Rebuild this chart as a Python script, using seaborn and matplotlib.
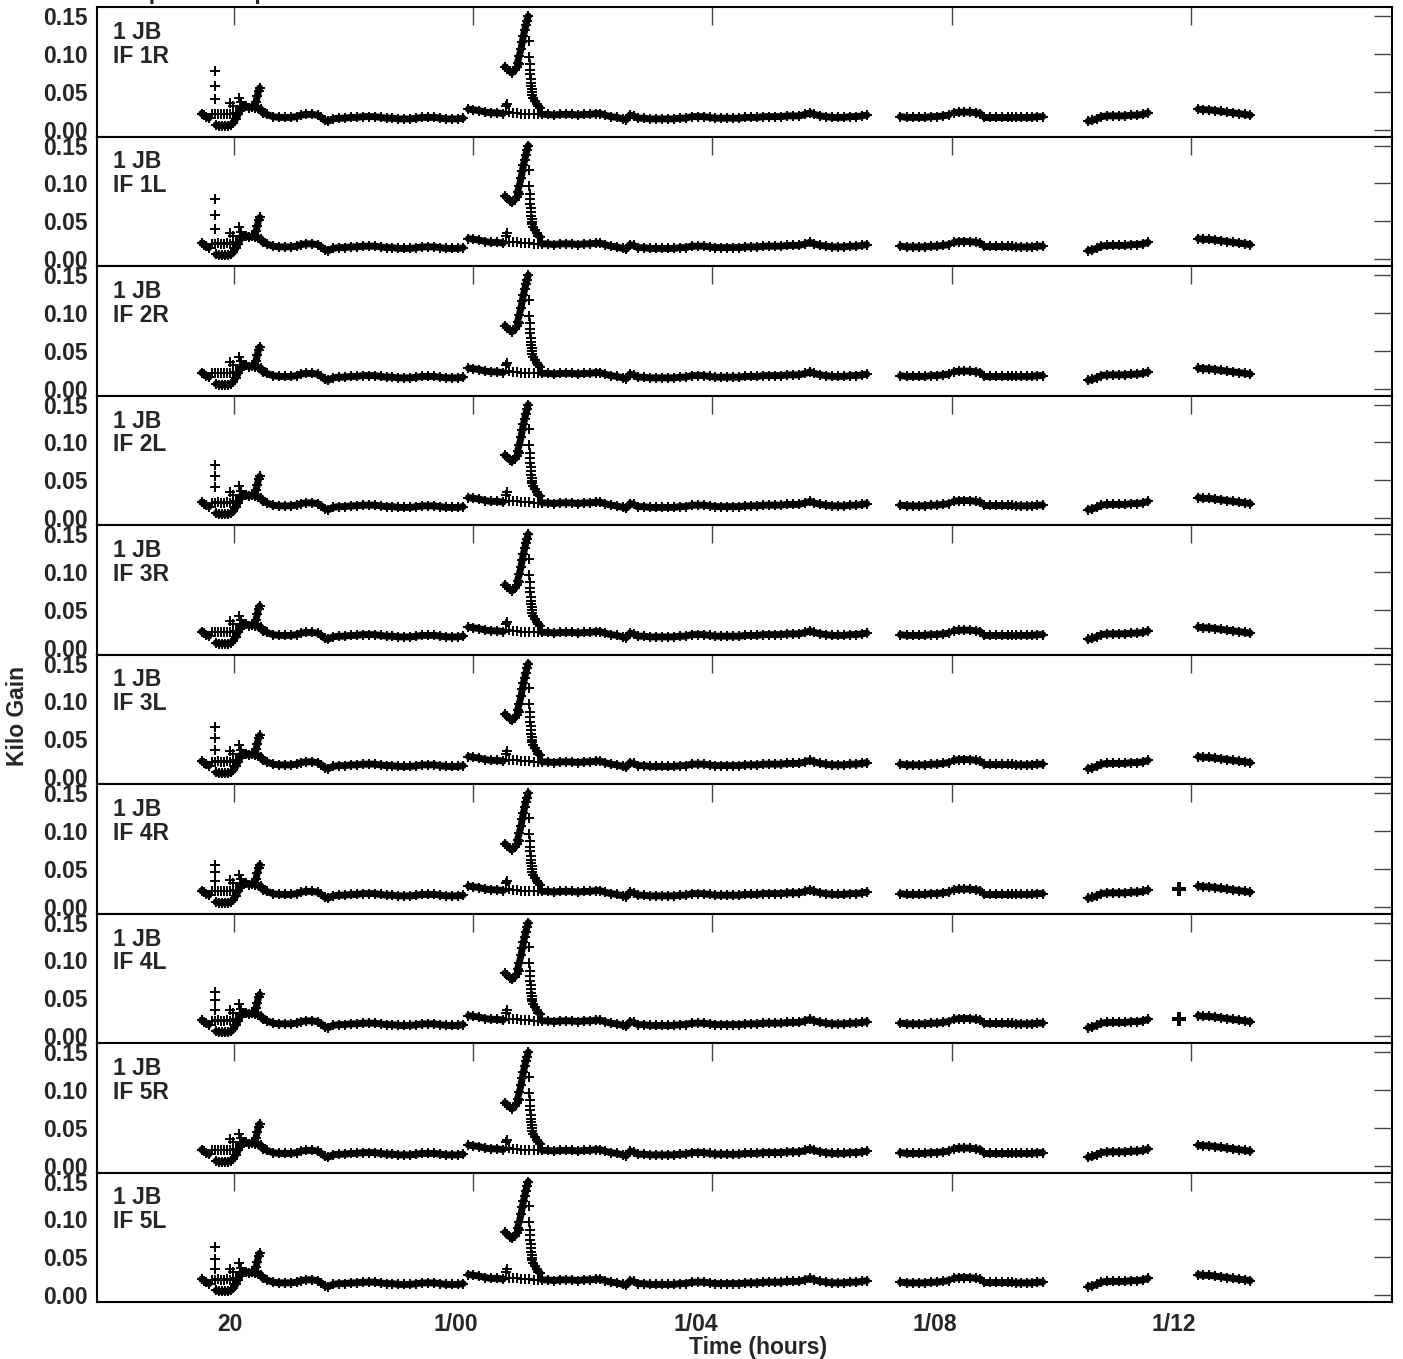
#!/usr/bin/env python3

import matplotlib
matplotlib.use("Agg")
import matplotlib.pyplot as plt
import matplotlib.transforms as mtransforms
from matplotlib.ticker import FormatStrFormatter
import pandas as pd
import seaborn as sns


station = "1 JB"
if_names = ["IF 1R", "IF 1L", "IF 2R", "IF 2L", "IF 3R",
            "IF 3L", "IF 4R", "IF 4L", "IF 5R", "IF 5L"]

# solid runs of solutions, time in hours, one list per run
band_t = [
    [19.46, 19.50, 19.54, 19.58],
    [19.70, 19.75, 19.80, 19.85, 19.90, 19.95, 19.99, 20.03, 20.07, 20.10],
    [20.10, 20.15, 20.20, 20.25, 20.30, 20.35, 20.40, 20.45],
    [20.35, 20.37, 20.39, 20.41, 20.43],
    [20.48, 20.55, 20.65, 20.75, 20.85, 20.95, 21.05, 21.12, 21.20, 21.30,
     21.40, 21.46, 21.52, 21.58, 21.65, 21.75, 21.85, 21.95, 22.05, 22.15,
     22.25, 22.35, 22.45, 22.55, 22.65, 22.75, 22.85, 22.95, 23.05, 23.15,
     23.25, 23.35, 23.45, 23.55, 23.65, 23.75, 23.83],
    [23.92, 24.00, 24.10, 24.20, 24.30, 24.40, 24.50],
    [24.53, 24.57, 24.61, 24.65, 24.69, 24.73, 24.76],
    [24.74, 24.77, 24.80, 24.82, 24.84, 24.86, 24.88, 24.90, 24.92],
    [25.00, 25.03, 25.06, 25.09, 25.12],
    [25.15, 25.25, 25.35, 25.45, 25.55, 25.65, 25.75, 25.85, 25.95, 26.05,
     26.12, 26.20, 26.30, 26.40, 26.50, 26.56, 26.62, 26.68, 26.75, 26.85,
     26.95, 27.05, 27.15, 27.25, 27.35, 27.45, 27.55, 27.65, 27.75, 27.85,
     27.95, 28.05, 28.15, 28.25, 28.35, 28.45, 28.55, 28.65, 28.75, 28.85,
     28.95, 29.05, 29.15, 29.25, 29.35, 29.45, 29.55, 29.63, 29.70, 29.80,
     29.90, 30.00, 30.10, 30.20, 30.30, 30.40, 30.50, 30.58],
    [31.14, 31.25, 31.35, 31.45, 31.55, 31.65, 31.75, 31.85, 31.95],
    [32.03, 32.12, 32.21, 32.30, 32.40, 32.48],
    [32.54, 32.64, 32.74, 32.84, 32.94, 33.00],
    [33.07, 33.16, 33.25, 33.34, 33.43, 33.52],
    [34.28, 34.35, 34.42, 34.50, 34.60, 34.70, 34.80, 34.90, 35.00, 35.10,
     35.20, 35.28],
    [36.12, 36.20, 36.30, 36.40, 36.50, 36.60, 36.70, 36.80, 36.90, 36.99],
]
band_v = [
    [0.021, 0.019, 0.017, 0.015],
    [0.006, 0.005, 0.005, 0.005, 0.005, 0.006, 0.009, 0.014, 0.020, 0.025],
    [0.028, 0.030, 0.031, 0.029, 0.030, 0.029, 0.028, 0.027],
    [0.030, 0.037, 0.044, 0.051, 0.055],
    [0.022, 0.020, 0.017, 0.016, 0.016, 0.016, 0.017, 0.019, 0.020, 0.020,
     0.019, 0.016, 0.012, 0.011, 0.014, 0.015, 0.015, 0.016, 0.016, 0.017,
     0.017, 0.017, 0.016, 0.015, 0.015, 0.014, 0.014, 0.014, 0.015, 0.016,
     0.016, 0.016, 0.015, 0.014, 0.014, 0.014, 0.015],
    [0.027, 0.026, 0.025, 0.023, 0.022, 0.022, 0.021],
    [0.083, 0.080, 0.077, 0.075, 0.078, 0.082, 0.086],
    [0.088, 0.097, 0.107, 0.116, 0.124, 0.131, 0.138, 0.144, 0.150],
    [0.042, 0.038, 0.034, 0.031, 0.029],
    [0.020, 0.020, 0.019, 0.020, 0.020, 0.020, 0.019, 0.020, 0.020, 0.021,
     0.021, 0.019, 0.017, 0.016, 0.014, 0.013, 0.019, 0.018, 0.015, 0.015,
     0.014, 0.014, 0.014, 0.014, 0.014, 0.015, 0.015, 0.017, 0.017, 0.017,
     0.016, 0.015, 0.015, 0.015, 0.015, 0.015, 0.016, 0.016, 0.016, 0.017,
     0.017, 0.017, 0.017, 0.018, 0.018, 0.018, 0.020, 0.022, 0.020, 0.018,
     0.017, 0.016, 0.016, 0.016, 0.017, 0.017, 0.018, 0.019],
    [0.017, 0.016, 0.016, 0.016, 0.016, 0.017, 0.017, 0.018, 0.019],
    [0.022, 0.023, 0.023, 0.023, 0.022, 0.021],
    [0.017, 0.017, 0.017, 0.017, 0.017, 0.017],
    [0.016, 0.016, 0.016, 0.016, 0.017, 0.017],
    [0.011, 0.012, 0.014, 0.017, 0.018, 0.018, 0.018, 0.018, 0.019, 0.019,
     0.020, 0.022],
    [0.027, 0.026, 0.026, 0.025, 0.024, 0.023, 0.022, 0.021, 0.020, 0.019],
]

# loose solutions drawn as single crosses, shared by all IFs
plus_t = [19.64, 19.69, 19.74, 19.79, 19.84, 19.89, 19.94, 19.99, 20.04,
          19.93, 19.98, 20.08, 20.12,
          24.55, 24.56, 24.59, 24.66, 24.73, 24.80, 24.87, 24.94, 25.01, 25.08,
          24.93, 24.94, 24.945, 24.95, 24.955, 24.96, 24.965, 24.97, 24.975,
          24.98, 24.99]
plus_v = [0.020, 0.020, 0.021, 0.020, 0.020, 0.021, 0.020, 0.021, 0.022,
          0.035, 0.031, 0.042, 0.036,
          0.031, 0.034, 0.023, 0.022, 0.022, 0.021, 0.021, 0.021, 0.020, 0.020,
          0.117, 0.096, 0.086, 0.079, 0.073, 0.067, 0.062, 0.057, 0.053,
          0.049, 0.046]

# early outliers near 19.68 h, differ per IF
outlier_t = 19.68
outlier_v = [
    [0.077, 0.057, 0.040],
    [0.079, 0.058, 0.040],
    [],
    [0.070, 0.055, 0.041],
    [],
    [0.066, 0.051, 0.036],
    [0.055, 0.045, 0.034],
    [0.058, 0.047, 0.035],
    [],
    [0.064, 0.048, 0.034],
]

# single isolated solution seen only in IF 4R / 4L
lone_t = [None, None, None, None, None, None, 35.80, 35.80, None, None]
lone_v = [None, None, None, None, None, None, 0.023, 0.022, None, None]

tick_hours = [20, 24, 28, 32, 36]
tick_text = ["20", "1/00", "1/04", "1/08", "1/12"]
ytick_vals = [0.00, 0.05, 0.10, 0.15]


rows = []
for k, (ts, vs) in enumerate(zip(band_t, band_v)):
    for t, v in zip(ts, vs):
        rows.append({"seg": k, "t": t, "v": v})
df_band = pd.DataFrame(rows)
df_plus = pd.DataFrame({"t": plus_t, "v": plus_v})

sns.set_style("white")
plt.rcParams["font.family"] = ["Liberation Sans", "DejaVu Sans"]
plt.rcParams["font.weight"] = "bold"
fsize = 16.5

fig = plt.figure(figsize=(14.03, 13.59), dpi=100)
gs = fig.add_gridspec(10, 1, left=97/1403, right=1392/1403,
                      top=1 - 7/1359, bottom=1 - 1302/1359, hspace=0)

for i, name in enumerate(if_names):
    ax = fig.add_subplot(gs[i, 0])

    # the dense runs: a thick line under crosses
    sns.lineplot(data=df_band, x="t", y="v", units="seg", estimator=None,
                 sort=False, color="black", linewidth=5.0, ax=ax)
    sns.scatterplot(data=df_band, x="t", y="v", marker="+", s=50, color="black",
                    linewidth=1.4, ax=ax)

    extra = df_plus.copy()
    if outlier_v[i]:
        extra = pd.concat([extra, pd.DataFrame({"t": [outlier_t] * len(outlier_v[i]),
                                                "v": outlier_v[i]})])
    sns.scatterplot(data=extra, x="t", y="v", marker="+", s=55, color="black",
                    linewidth=1.4, ax=ax)
    if lone_t[i] is not None:
        sns.scatterplot(x=[lone_t[i]], y=[lone_v[i]], marker="P", s=90,
                        color="black", linewidth=0, ax=ax)

    ax.set_xlim(17.71, 39.36)
    ax.set_ylim(-0.00925, 0.1619)
    ax.set_yticks(ytick_vals)
    ax.yaxis.set_major_formatter(FormatStrFormatter("%.2f"))
    ax.set_xticks(tick_hours)
    ax.set_xlabel("")
    ax.set_ylabel("")
    ax.tick_params(axis="both", which="major", direction="in", length=13,
                   width=1.0, color="#444444", top=True, right=True,
                   labelsize=fsize, pad=6.5)
    for sp in ax.spines.values():
        sp.set_color("black")
        sp.set_linewidth(1.5)
    for lab in ax.get_yticklabels():
        lab.set_fontweight("bold")

    ax.text(16/1295, 1 - 14/129.5, station + "\n" + name, transform=ax.transAxes,
            ha="left", va="top", fontsize=fsize, fontweight="bold",
            linespacing=1.05)

    if i < len(if_names) - 1:
        ax.set_xticklabels([])
    else:
        ax.set_xticklabels(tick_text, fontsize=fsize, fontweight="bold")
        ax.tick_params(axis="x", pad=8)
        for lab, txt in zip(ax.get_xticklabels(), tick_text):
            dx = -4 if txt == "20" else -17
            lab.set_transform(lab.get_transform() +
                              mtransforms.ScaledTranslation(dx / 100, 0, fig.dpi_scale_trans))
        ax.set_xlabel("Time (hours)", fontsize=fsize, fontweight="bold")
        ax.xaxis.set_label_coords((758 - 97) / 1295, -34 / 129.5)

fig.text(18/1403, 1 - 716/1359, "Kilo Gain", rotation=90, ha="center", va="center",
         fontsize=fsize, fontweight="bold")
fig.text(59/1403, 1 + 1/1359, "Gain amp vs time plot", ha="left", va="baseline",
         fontsize=fsize, fontweight="bold")

fig.savefig("out.png", dpi=100, facecolor="white")
